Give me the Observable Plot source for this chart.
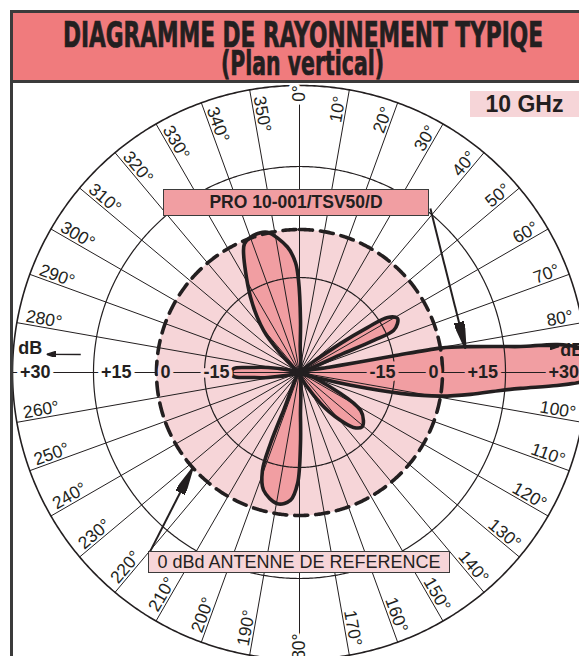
<!DOCTYPE html>
<html lang="fr">
<head>
<meta charset="utf-8">
<title>Diagramme de rayonnement typique</title>
<script src="https://cdn.jsdelivr.net/npm/d3@7"></script>
<script src="https://cdn.jsdelivr.net/npm/@observablehq/plot@0.6"></script>
<style>
html, body { margin:0; padding:0; background:#fff; overflow:hidden; }
#wrap { position:relative; width:579px; height:656px; overflow:hidden; background:#fff; font-family:"Liberation Sans", Arial, Helvetica, sans-serif; color:#231f20; }
#chart { position:absolute; left:0; top:83px; width:579px; height:573px; }
#header { position:absolute; left:0; top:0; }
#frameLeft { position:absolute; left:10px; top:82px; width:3px; height:574px; background:#3b3b3b; }
.box { position:absolute; box-sizing:border-box; display:flex; align-items:center; justify-content:center; white-space:nowrap; line-height:1; }
#pro { left:163px; top:189px; width:266px; height:27px; background:#f19ea2; border:1.5px solid #3b3b3b; font-weight:bold; font-size:17.5px; }
#ref { left:148px; top:551px; width:302px; height:22px; background:#f6d5d8; border:1.5px solid #3b3b3b; font-size:18px; }
#ghz { left:470px; top:91px; width:109px; height:26px; background:#f6d5d8; font-weight:bold; font-size:23px; }
</style>
</head>
<body>
<div id="wrap">
  <div id="chart"></div>
  <div id="frameLeft"></div>
  <svg id="header" width="579" height="90" viewBox="0 0 579 90">
    <rect x="11.5" y="11.5" width="620" height="70" fill="#f07b7d" stroke="#3b3b3b" stroke-width="3"/>
    <text x="303" y="47" text-anchor="middle" font-size="35" font-weight="bold" textLength="480" lengthAdjust="spacingAndGlyphs" fill="#231f20" stroke="#231f20" stroke-width="0.7" font-family="'Liberation Sans Narrow','DejaVu Sans Condensed','Liberation Sans',sans-serif">DIAGRAMME DE RAYONNEMENT TYPIQE</text>
    <text x="302.5" y="75" text-anchor="middle" font-size="34" font-weight="bold" textLength="163" lengthAdjust="spacingAndGlyphs" fill="#231f20" stroke="#231f20" stroke-width="0.7" font-family="'Liberation Sans Narrow','DejaVu Sans Condensed','Liberation Sans',sans-serif">(Plan vertical)</text>
  </svg>
  <div class="box" id="ghz">10 GHz</div>
  <div class="box" id="pro">PRO 10-001/TSV50/D</div>
  <div class="box" id="ref">0 dBd ANTENNE DE REFERENCE</div>
</div>
<script>
// ---------- DATA (angles in degrees clockwise from top, levels in dB) ----------
const radialDb = [-55, -45, -30, -15, 0, 15, 30, 45];      // chart's radial dB graduation
const radialPx = [0, 30, 58, 95, 143, 206, 287, 392];       // matching radii of the printed scale

const gridRingsDb = [-15, 15];
const outerRingDb = 30;
const referenceDb = 0;
const spokeAngles = d3.range(0, 360, 10);

const degLabelAngles = [0,10,20,30,40,50,60,70,80,100,110,120,130,140,150,160,170,
                        180,190,200,210,220,230,240,250,260,280,290,300,310,320,330,340,350];
const degLabelText = degLabelAngles.map(a => a + "°");

const axisValueDb   = [30, 15, 0, -15];
const axisValueText = ["+30", "+15", "0", "-15"];

// lobes of the vertical radiation pattern
const lobeAAngles = [310, 315, 319.4, 327, 335.3, 336.9, 340.1, 343.6, 347.1, 354.5, 357.9, 359.4, 361.1, 361.5];
const lobeADb     = [-52.3, -46, -31.6, -17, -2.8, -0.9, 0.2, 0.5, 0.2, -5.3, -10.3, -16.2, -33.2, -46];
const lobeBAngles = [54.7, 56.5, 58, 61.1, 63.5, 65.9, 66.6, 66.6];
const lobeBDb     = [-34.3, -20.5, -12.2, -9.7, -10.5, -12.5, -20.7, -35.4];
const lobeCAngles = [80, 80, 80, 80.2, 81.4, 82.6, 83.3, 83.8, 84.9, 87, 88.9, 90.8, 92, 92.9, 94.1, 95.1, 97.3, 99.5, 101.7, 104, 106];
const lobeCDb     = [-45, -30, -15, 0.1, 7.1, 14.1, 18.1, 24.9, 28.9, 32.1, 33.7, 32.3, 28.7, 24.6, 17.9, 14, 7, 0.1, -12.5, -32.7, -47];
const lobeDAngles = [117.1, 121.9, 126.9, 131, 135.5, 139.5, 145.9];
const lobeDDb     = [-36.4, -24.3, -21.1, -19.9, -22.3, -28, -41.3];
const lobeEAngles = [178.7, 179.2, 181, 184, 189.5, 197, 200.7, 202.2, 202.8];
const lobeEDb     = [-38, -24.7, -10, -4.7, -3.1, -6.25, -11.9, -22.3, -39.1];
const lobeFAngles = [261, 264.2, 266.5, 270, 273.5, 275.8, 279];
const lobeFDb     = [-44, -34.8, -26.8, -26, -26.8, -34.8, -44];

// annotation arrows (polar anchors: angle, dB)
const bigArrowFromAngle = [38.6, 219.8];
const bigArrowFromDb    = [15.7, 20.2];
const bigArrowToAngle   = [81.8, 228.1];
const bigArrowToDb      = [5.9, 0.2];
const dbArrowFromAngle  = [274.7, 83.3];
const dbArrowFromDb     = [17.5, 18.1];
const dbArrowToAngle    = [274.1, 84.3];
const dbArrowToDb       = [23.8, 25.2];

// ---------- helpers ----------
const INK = "#231f20", SALMON = "#f19ea2", PINK = "#f6d5d8";
const FONT = "'Liberation Sans', Arial, Helvetica, sans-serif";
const rScale = d3.scaleLinear().domain(radialDb).range(radialPx).clamp(true);
const CENTER_DB = radialDb[0];
const rad = a => a * Math.PI / 180;
const px = (a, db) => rScale(db) * Math.sin(rad(a));
const py = (a, db) => rScale(db) * Math.cos(rad(a));

const lobes = [
  ["A", lobeAAngles, lobeADb], ["B", lobeBAngles, lobeBDb], ["C", lobeCAngles, lobeCDb],
  ["D", lobeDAngles, lobeDDb], ["E", lobeEAngles, lobeEDb], ["F", lobeFAngles, lobeFDb]
];
const lobePts = lobes.flatMap(([k, A, D]) =>
  [{k, a: A[0], db: CENTER_DB}].concat(A.map((a, i) => ({k, a, db: D[i]}))));

const circle = (db, k) => d3.range(0, 360, 0.5).map(a => ({k, a, db}));
const ringPts = gridRingsDb.flatMap(db => circle(db, db));

const LAB_R = rScale(outerRingDb) - 8;
function labXY(a, side) {
  const t = rad(a), g = 2.5 * side;
  return [LAB_R * Math.sin(t) - g * Math.cos(t), LAB_R * Math.cos(t) + g * Math.sin(t)];
}
const degItems = degLabelAngles.map((a, i) => ({a, t: degLabelText[i]}));
const degRight = degItems.filter(d => d.a > 0 && d.a < 180);
const degLeft = degItems.filter(d => d.a > 180);
const degAxis = degItems.filter(d => d.a === 0 || d.a === 180);

const axisItems = axisValueDb.map((db, i) => ({db, t: axisValueText[i]}));
const gapOf = db => db >= 15 ? 7.5 : db === 0 ? 4 : -1;

function triMarker(len, wid) {
  return (color, context) => {
    const doc = (context && context.document) || document;
    const ns = "http://www.w3.org/2000/svg";
    const m = doc.createElementNS(ns, "marker");
    m.setAttribute("viewBox", `0 ${-wid / 2} ${len} ${wid}`);
    m.setAttribute("markerWidth", len);
    m.setAttribute("markerHeight", wid);
    m.setAttribute("markerUnits", "userSpaceOnUse");
    m.setAttribute("refX", len);
    m.setAttribute("refY", 0);
    m.setAttribute("orient", "auto");
    const p = doc.createElementNS(ns, "path");
    p.setAttribute("d", `M0,${-wid / 2}L${len},0L0,${wid / 2}Z`);
    p.setAttribute("fill", color);
    m.appendChild(p);
    return m;
  };
}
const bigArrows = bigArrowFromAngle.map((a, i) => ({a1: a, d1: bigArrowFromDb[i], a2: bigArrowToAngle[i], d2: bigArrowToDb[i]}));
const dbArrows = dbArrowFromAngle.map((a, i) => ({a1: a, d1: dbArrowFromDb[i], a2: dbArrowToAngle[i], d2: dbArrowToDb[i]}));

const XY = {x: d => px(d.a, d.db), y: d => py(d.a, d.db)};

const chart = Plot.plot({
  width: 579, height: 573, margin: 0,
  x: {domain: [-299, 280], axis: null},
  y: {domain: [-284, 289], axis: null},
  style: {background: "none", overflow: "hidden"},
  marks: [
    // reference (0 dBd) disk
    Plot.line(circle(referenceDb, "disk"), {...XY, curve: "linear-closed", fill: PINK, stroke: "none"}),
    // pattern fill
    Plot.line(lobePts, {...XY, z: "k", curve: "catmull-rom-closed", fill: SALMON, stroke: "none"}),
    // spokes
    Plot.link(spokeAngles, {
      x1: a => px(a, CENTER_DB), y1: a => py(a, CENTER_DB),
      x2: a => px(a, outerRingDb), y2: a => py(a, outerRingDb),
      stroke: INK, strokeWidth: 1
    }),
    // rings
    Plot.line(ringPts, {...XY, z: "k", curve: "linear-closed", stroke: INK, strokeWidth: 1.2}),
    Plot.line(circle(outerRingDb, "outer"), {...XY, curve: "linear-closed", stroke: INK, strokeWidth: 1.6}),
    // pattern outline
    Plot.line(lobePts, {...XY, z: "k", curve: "catmull-rom-closed", fill: "none", stroke: INK, strokeWidth: 3.6, strokeLinejoin: "round"}),
    // dashed reference circle
    Plot.line(circle(referenceDb, "ref"), {...XY, curve: "linear-closed", stroke: INK, strokeWidth: 3.6, strokeDasharray: "13,8"}),
    Plot.dot([CENTER_DB], {x: d => px(0, d), y: d => py(0, d), r: 4.5, fill: INK}),
    // horizontal axis values (left)
    Plot.text(axisItems, {
      x: d => -(rScale(d.db) - gapOf(d.db)), y: () => 0, text: "t", textAnchor: "start",
      fontFamily: FONT, fontWeight: "bold", fontSize: 18, fill: INK,
      stroke: d => d.db >= 15 ? "white" : PINK, strokeWidth: 7, paintOrder: "stroke"
    }),
    // horizontal axis values (right, inside main lobe)
    Plot.text(axisItems, {
      x: d => rScale(d.db) - gapOf(d.db), y: () => 0, text: "t", textAnchor: "end",
      fontFamily: FONT, fontWeight: "bold", fontSize: 18, fill: INK,
      stroke: SALMON, strokeWidth: 7, paintOrder: "stroke"
    }),
    // degree labels
    Plot.text(degRight, {
      x: d => labXY(d.a, 1)[0], y: d => labXY(d.a, 1)[1], text: "t", rotate: d => d.a - 90,
      textAnchor: "end", lineAnchor: "bottom", fontFamily: FONT, fontSize: 17.5, fill: INK
    }),
    Plot.text(degLeft, {
      x: d => labXY(d.a, -1)[0], y: d => labXY(d.a, -1)[1], text: "t", rotate: d => d.a - 270,
      textAnchor: "start", lineAnchor: "bottom", fontFamily: FONT, fontSize: 17.5, fill: INK
    }),
    Plot.text(degAxis, {
      x: d => labXY(d.a, 0)[0], y: d => labXY(d.a, 0)[1], text: "t", rotate: -90,
      textAnchor: d => d.a === 0 ? "end" : "start", lineAnchor: "middle", fontFamily: FONT, fontSize: 17.5, fill: INK,
      stroke: "white", strokeWidth: 7, paintOrder: "stroke"
    }),
    // annotation arrows
    Plot.link(bigArrows, {
      x1: d => px(d.a1, d.d1), y1: d => py(d.a1, d.d1), x2: d => px(d.a2, d.d2), y2: d => py(d.a2, d.d2),
      stroke: INK, strokeWidth: 2, markerEnd: triMarker(27, 10)
    }),
    Plot.link(dbArrows, {
      x1: d => px(d.a1, d.d1), y1: d => py(d.a1, d.d1), x2: d => px(d.a2, d.d2), y2: d => py(d.a2, d.d2),
      stroke: INK, strokeWidth: 1.3, markerEnd: triMarker(9, 6)
    }),
    // dB unit labels
    Plot.text(["dB"], {
      x: () => px(275.1, 26.9), y: () => py(275.1, 26.9), text: d => d, textAnchor: "middle", lineAnchor: "middle",
      fontFamily: FONT, fontWeight: "bold", fontSize: 18, fill: INK
    }),
    Plot.text(["dB"], {
      x: () => px(85.2, 25.3), y: () => py(85.2, 25.3), text: d => d, textAnchor: "start", lineAnchor: "middle",
      fontFamily: FONT, fontWeight: "bold", fontSize: 18, fill: INK
    })
  ]
});
document.getElementById("chart").appendChild(chart);
</script>
</body>
</html>
